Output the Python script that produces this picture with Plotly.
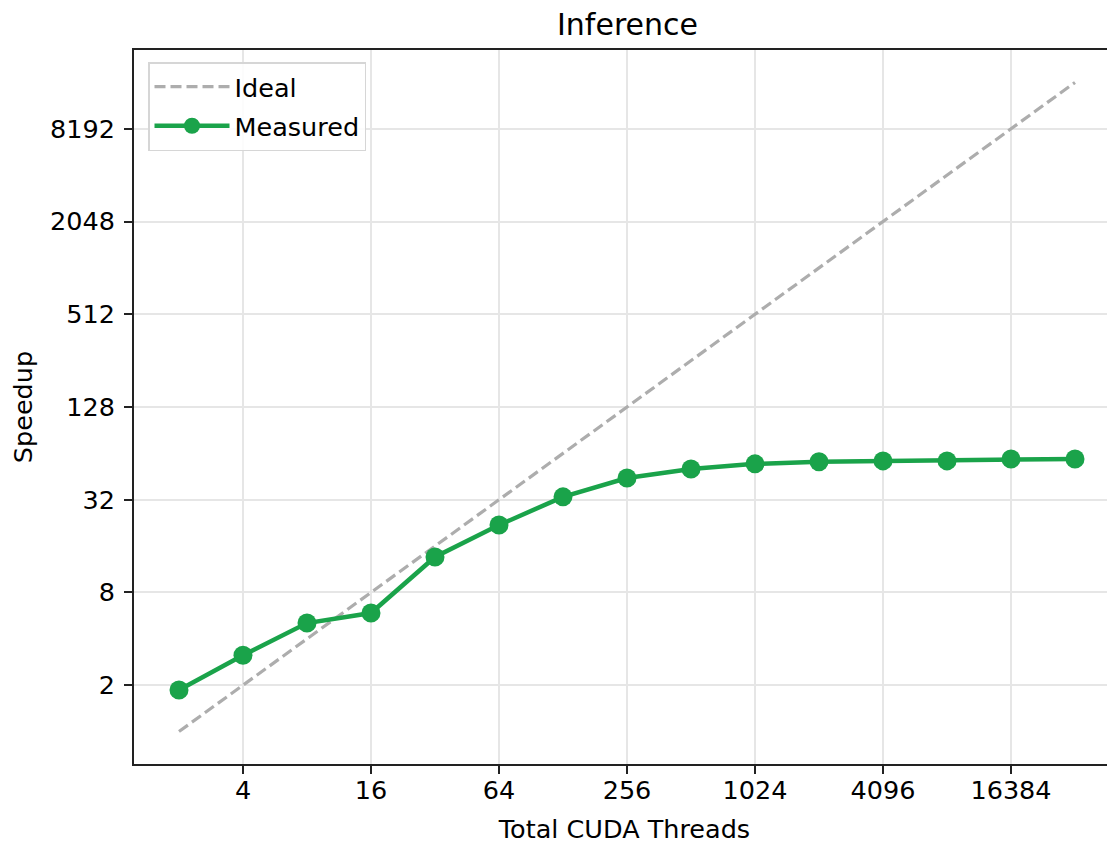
import math
import plotly.graph_objects as go

threads = [2, 4, 8, 16, 32, 64, 128, 256, 512, 1024, 2048, 4096, 8192, 16384, 32768]
ideal_speedup = [1, 2, 4, 8, 16, 32, 64, 128, 256, 512, 1024, 2048, 4096, 8192, 16384]
measured_speedup = [1.86, 3.13, 5.06, 5.88, 13.6, 21.9, 33.4, 44.3, 50.7, 54.7, 56.4, 57.2, 57.2, 58.9, 58.9]
x_ticks = [4, 16, 64, 256, 1024, 4096, 16384]
y_ticks = [2, 8, 32, 128, 512, 2048, 8192]

GREEN = "#1aa34a"
FONT = "DejaVu Sans"
OFF = 8  # page body margin

fig = go.Figure()
fig.add_trace(go.Scatter(
    x=threads, y=ideal_speedup, mode="lines", name="Ideal",
    line=dict(color="#adadad", width=3.2, dash="11px,5px"),
    legendgroup="a",
))
fig.add_trace(go.Scatter(
    x=threads, y=measured_speedup, mode="lines+markers", name="Measured",
    line=dict(color=GREEN, width=4.5),
    marker=dict(color=GREEN, size=19),
    legendgroup="b",
))

W, H = 1115 - OFF, 844 - OFF
L, T = 134 - OFF, 50 - OFF
B = H - (764 - OFF)
pw = W - L
ph = H - T - B

fig.update_layout(
    width=W, height=H,
    margin=dict(l=L, r=0, t=T, b=B, pad=0),
    plot_bgcolor="white", paper_bgcolor="white",
    font=dict(family=FONT, size=25.5, color="black"),
    title=dict(text="Inference", x=(627.5 - OFF) / W, xanchor="center",
               y=1 - (24 - OFF) / H, yanchor="middle", font=dict(size=30)),
    showlegend=True,
    legend=dict(
        x=(148 - 134) / pw, y=(764 - 62) / ph, xanchor="left", yanchor="top",
        bgcolor="rgba(255,255,255,0.85)", bordercolor="#d6d6d6", borderwidth=1.5,
        font=dict(size=25.5), itemwidth=75, tracegroupgap=3, traceorder="grouped",
    ),
)
fig.update_xaxes(
    type="log",
    range=[0.297 * math.log10(2), 15.625 * math.log10(2)],
    tickvals=x_ticks, ticktext=[str(v) for v in x_ticks],
    showgrid=True, gridcolor="#e6e6e6", gridwidth=1.5,
    showline=True, linecolor="#222222", linewidth=2, mirror=True,
    ticks="outside", ticklen=8, tickwidth=1.6, tickcolor="#222222",
    ticklabelstandoff=-6,
    title=dict(text="Total CUDA Threads", font=dict(size=25.5), standoff=19),
    zeroline=False,
)
fig.update_yaxes(
    type="log",
    range=[-0.7 * math.log10(2), 14.7 * math.log10(2)],
    tickvals=y_ticks, ticktext=[str(v) for v in y_ticks],
    showgrid=True, gridcolor="#e6e6e6", gridwidth=1.5,
    showline=True, linecolor="#222222", linewidth=2, mirror=False,
    ticks="outside", ticklen=8, tickwidth=1.6, tickcolor="#222222",
    ticklabelstandoff=4,
    title=dict(text="Speedup", font=dict(size=25.5), standoff=17),
    zeroline=False,
)

fig.write_html("out.html")
